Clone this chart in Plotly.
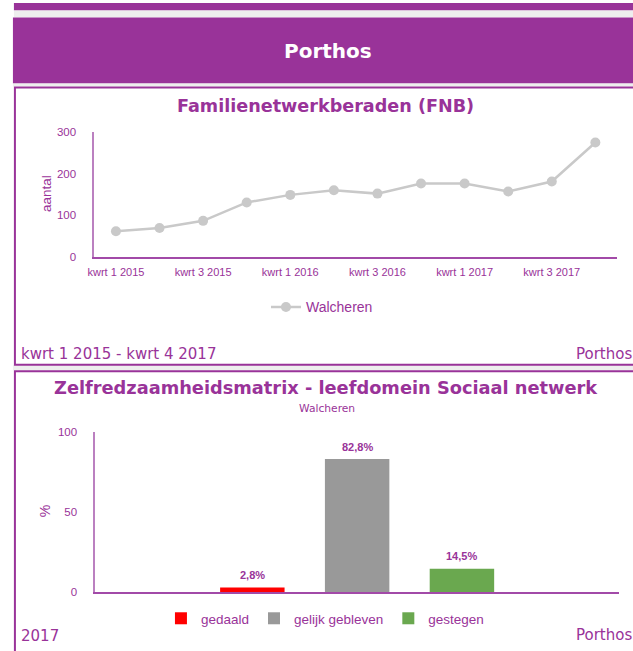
import plotly.graph_objects as go

W, H = 633, 651

# ---------------- data ----------------
quarters = ["kwrt 1 2015", "kwrt 2 2015", "kwrt 3 2015", "kwrt 4 2015",
            "kwrt 1 2016", "kwrt 2 2016", "kwrt 3 2016", "kwrt 4 2016",
            "kwrt 1 2017", "kwrt 2 2017", "kwrt 3 2017", "kwrt 4 2017"]
fnb_walcheren = [62, 70, 87, 131, 149, 160, 152, 176, 176, 157, 181, 274]
fnb_ticks = [0, 100, 200, 300]

zrm_categories = ["gedaald", "gelijk gebleven", "gestegen"]
zrm_values = [2.8, 82.8, 14.5]
zrm_ticks = [0, 50, 100]

# ---------------- style ----------------
PURPLE = "#993399"
AXIS_Y = "#bb80c0"
AXIS_X = "#a24aa8"
GAP = "#eeeeee"
LINE_GRAY = "#c9c9c9"
zrm_colors = ["#ff0000", "#999999", "#6aa84f"]
TXT = "Liberation Sans, Arial, sans-serif"
HEAD = "DejaVu Sans, Verdana, sans-serif"


def px(x):
    return x / W


def py(y):
    return 1 - y / H


fig = go.Figure()

fig.add_trace(go.Scatter(
    x=quarters, y=fnb_walcheren, mode="lines+markers", name="Walcheren",
    line=dict(color=LINE_GRAY, width=2.5),
    marker=dict(color=LINE_GRAY, size=10),
    xaxis="x", yaxis="y", legend="legend",
))

for cat, val, col in zip(zrm_categories, zrm_values, zrm_colors):
    fig.add_trace(go.Bar(
        x=[cat], y=[val], name=cat, marker=dict(color=col, line=dict(width=0)),
        width=0.615, xaxis="x2", yaxis="y2", legend="legend2",
    ))

shapes = [
    dict(type="rect", x0=px(8), x1=px(640), y0=py(-3), y1=py(4.7), fillcolor=PURPLE, line=dict(width=0)),
    dict(type="rect", x0=px(8), x1=px(640), y0=py(4.7), y1=py(11.7), fillcolor=GAP, line=dict(width=0)),
    dict(type="rect", x0=px(7), x1=px(640), y0=py(11.7), y1=py(79), fillcolor=PURPLE, line=dict(width=0)),
    dict(type="rect", x0=px(7), x1=px(640), y0=py(79), y1=py(82), fillcolor=GAP, line=dict(width=0)),
    dict(type="rect", x0=px(7), x1=px(640), y0=py(366), y1=py(371), fillcolor=GAP, line=dict(width=0)),
    dict(type="rect", x0=px(9), x1=px(640), y0=py(83), y1=py(365.5), fillcolor="white",
         line=dict(color=PURPLE, width=2)),
    dict(type="rect", x0=px(9), x1=px(640), y0=py(372), y1=py(670), fillcolor="white",
         line=dict(color=PURPLE, width=2)),
]
for s in shapes:
    s.update(xref="paper", yref="paper", layer="below")

annotations = [
    dict(text="<b>Porthos</b>", x=px(325), y=py(46), font=dict(family=HEAD, size=20, color="white")),
    dict(text="<b>Familienetwerkberaden (FNB)</b>", x=px(323), y=py(102),
         font=dict(family=HEAD, size=17.6, color=PURPLE)),
    dict(text="aantal", x=px(41), y=py(191), textangle=-90, font=dict(family=TXT, size=13.5, color=PURPLE)),
    dict(text="kwrt 1 2015 - kwrt 4 2017", x=px(13), y=py(355), xanchor="left",
         font=dict(family=HEAD, size=15, color=PURPLE)),
    dict(text="Porthos", x=px(634), y=py(355), xanchor="right",
         font=dict(family=HEAD, size=15, color=PURPLE)),
    dict(text="<b>Zelfredzaamheidsmatrix - leefdomein Sociaal netwerk</b>", x=px(323), y=py(389),
         font=dict(family=HEAD, size=17.8, color=PURPLE)),
    dict(text="Walcheren", x=px(324), y=py(410), font=dict(family=HEAD, size=10.7, color=PURPLE)),
    dict(text="%", x=px(39), y=py(515), textangle=-90, font=dict(family=TXT, size=14, color=PURPLE)),
    dict(text="2017", x=px(13), y=py(642), xanchor="left", font=dict(family=HEAD, size=15, color=PURPLE)),
    dict(text="Porthos", x=px(634), y=py(641), xanchor="right",
         font=dict(family=HEAD, size=15, color=PURPLE)),
]
for a in annotations:
    a.update(xref="paper", yref="paper", showarrow=False, xanchor=a.get("xanchor", "center"), yanchor="middle")

for cat, val in zip(zrm_categories, zrm_values):
    annotations.append(dict(
        text="<b>" + f"{val:.1f}".replace(".", ",") + "%</b>", x=cat, y=val, xref="x2", yref="y2",
        yshift=12.5, showarrow=False, yanchor="middle",
        font=dict(family=TXT, size=11, color=PURPLE)))

fig.update_layout(
    width=W, height=H, autosize=False,
    margin=dict(l=0, r=0, t=0, b=0),
    paper_bgcolor="white", plot_bgcolor="rgba(0,0,0,0)",
    shapes=shapes, annotations=annotations,
    xaxis=dict(domain=[px(89), px(617)], range=[-0.5, 11.5], type="category",
               tickmode="array", tickvals=quarters[::2], showgrid=False, zeroline=False,
               showline=True, linecolor=AXIS_X, linewidth=1.5, ticks="",
               tickfont=dict(family=TXT, size=11, color=PURPLE), ticklabelstandoff=4,
               anchor="y"),
    yaxis=dict(domain=[py(256), py(128)], range=[0, 300], tickvals=fnb_ticks, showgrid=False,
               zeroline=False, showline=True, linecolor=AXIS_Y, linewidth=1.5, ticks="",
               tickfont=dict(family=TXT, size=11.5, color=PURPLE), ticklabelstandoff=14,
               anchor="x"),
    xaxis2=dict(domain=[px(90), px(619)], range=[-1.5, 3.5], type="category",
                showticklabels=False, showgrid=False, zeroline=False,
                showline=True, linecolor=AXIS_X, linewidth=1.5, ticks="", anchor="y2"),
    yaxis2=dict(domain=[py(597), py(433.5)], range=[0, 100], tickvals=zrm_ticks, showgrid=False,
                zeroline=False, showline=True, linecolor=AXIS_Y, linewidth=1.5, ticks="",
                tickfont=dict(family=TXT, size=11.5, color=PURPLE), ticklabelstandoff=14,
                anchor="x2"),
    barmode="overlay",
    showlegend=True,
    legend=dict(orientation="h", x=px(319), y=py(307), xanchor="center", yanchor="middle",
                font=dict(family=TXT, size=14, color=PURPLE), itemwidth=30,
                bgcolor="rgba(0,0,0,0)"),
    legend2=dict(orientation="h", x=px(322), y=py(624), xanchor="center", yanchor="middle",
                 font=dict(family=TXT, size=13.5, color=PURPLE), itemwidth=30,
                 bgcolor="rgba(0,0,0,0)"),
)

fig.write_html(
    "out.html",
    config={"displayModeBar": False},
    post_script="document.body.style.margin='0';document.body.style.overflow='hidden';",
)
